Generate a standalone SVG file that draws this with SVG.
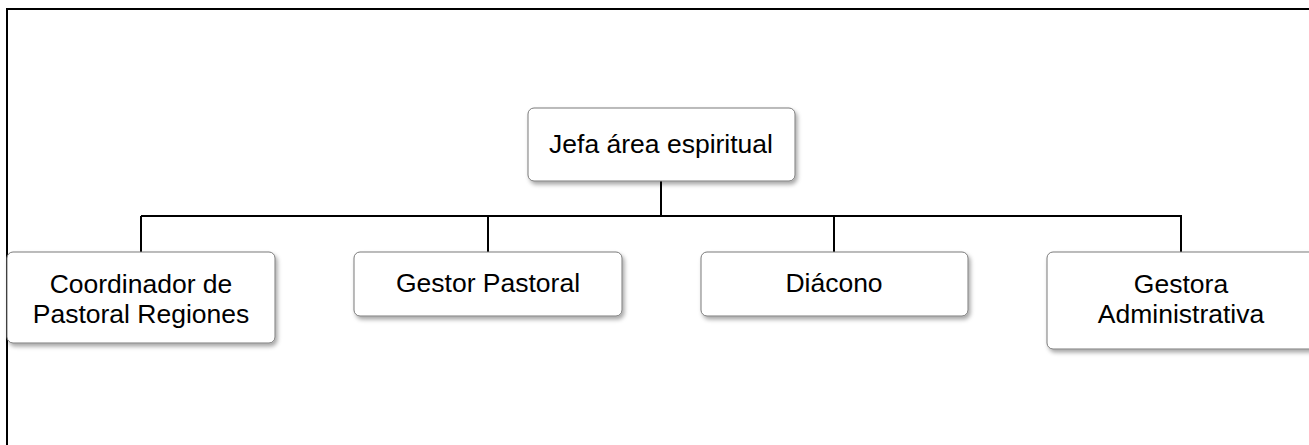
<svg xmlns="http://www.w3.org/2000/svg" width="1309" height="445" viewBox="0 0 1309 445">
  <style>
    .box { fill: #ffffff; stroke: #7a7a7a; stroke-width: 1; filter: url(#shadow); }
    .lbl { font-family: "Liberation Sans", Arial, sans-serif; font-size: 26.5px; fill: #000000; text-anchor: middle; }
    .conn { stroke: #000000; stroke-width: 2; fill: none; }
  </style>
  <defs>
    <filter id="shadow" x="-10%" y="-20%" width="130%" height="150%">
      <feDropShadow dx="2" dy="3" stdDeviation="2" flood-color="#000000" flood-opacity="0.35"/>
    </filter>
  </defs>
  <rect x="0" y="0" width="1309" height="445" fill="#ffffff"/>
  <rect id="frame" x="7" y="9" width="1320" height="460" fill="none" stroke="#000000" stroke-width="2"/>
  <g id="connectors">
    <line class="conn" x1="661" y1="181" x2="661" y2="216"/>
    <line class="conn" x1="141" y1="216" x2="1182" y2="216"/>
    <line class="conn" x1="141" y1="216" x2="141" y2="252"/>
    <line class="conn" x1="488" y1="216" x2="488" y2="252"/>
    <line class="conn" x1="834" y1="216" x2="834" y2="252"/>
    <line class="conn" x1="1181" y1="216" x2="1181" y2="252"/>
  </g>
  <g id="node-jefa">
    <rect class="box" x="528" y="108" width="267" height="73" rx="6"/>
    <text class="lbl" x="661" y="153">Jefa área espiritual</text>
  </g>
  <g id="node-coordinador">
    <rect class="box" x="7" y="252" width="268" height="91" rx="6"/>
    <text class="lbl" x="141" y="293">Coordinador de</text>
    <text class="lbl" x="141" y="323">Pastoral Regiones</text>
  </g>
  <g id="node-gestor">
    <rect class="box" x="354" y="252" width="268" height="64" rx="6"/>
    <text class="lbl" x="488" y="292">Gestor Pastoral</text>
  </g>
  <g id="node-diacono">
    <rect class="box" x="701" y="252" width="267" height="64" rx="6"/>
    <text class="lbl" x="834" y="292">Diácono</text>
  </g>
  <g id="node-gestora">
    <rect class="box" x="1047" y="252" width="268" height="97" rx="6"/>
    <text class="lbl" x="1181" y="293">Gestora</text>
    <text class="lbl" x="1181" y="323">Administrativa</text>
  </g>
</svg>
